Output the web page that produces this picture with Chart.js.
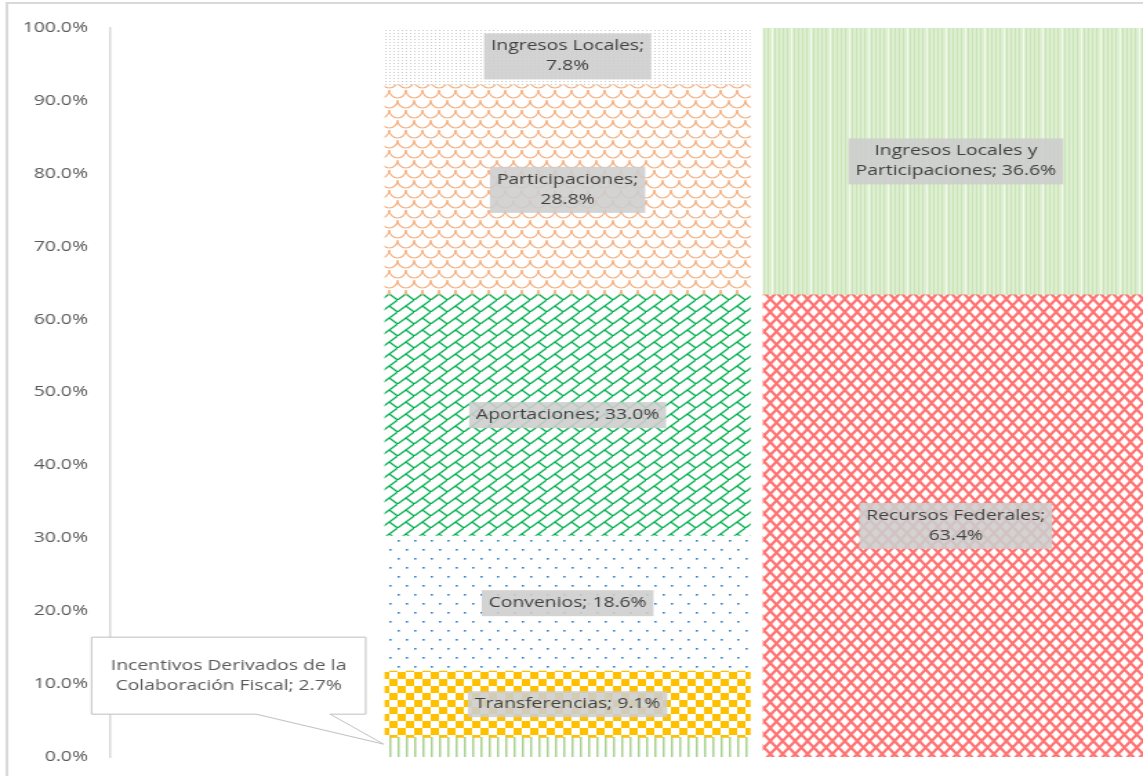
<!DOCTYPE html>
<html>
<head>
<meta charset="utf-8">
<script src="https://cdn.jsdelivr.net/npm/chart.js@4.4.1/dist/chart.umd.min.js"></script>
<style>
  html, body { margin: 0; padding: 0; background: #fff; overflow: hidden; }
  /* the reference is a horizontally stretched picture, so the whole chart is stretched too */
  #wrap { width: 828px; height: 776px; transform: scaleX(1.3804); transform-origin: 0 0; }
</style>
</head>
<body>
<div id="wrap"><canvas id="chart" width="828" height="776"></canvas></div>
<script>
const categories = ["Por fuente", "Por origen"];

// bar 1, bottom to top
const sourceNames = [
  "Incentivos Derivados de la Colaboración Fiscal",
  "Transferencias",
  "Convenios",
  "Aportaciones",
  "Participaciones",
  "Ingresos Locales"
];
const sourceValues = [2.7, 9.1, 18.6, 33.0, 28.8, 7.8];

// bar 2, bottom to top
const originNames = ["Recursos Federales", "Ingresos Locales y Participaciones"];
const originValues = [63.4, 36.6];

const yMin = 0, yMax = 100, yStep = 10;

const canvas = document.getElementById("chart");
const ctx = canvas.getContext("2d");

function makePattern(w, h, draw) {
  const c = document.createElement("canvas");
  c.width = w;
  c.height = h;
  draw(c.getContext("2d"), w, h);
  return ctx.createPattern(c, "repeat");
}

const patVLines = makePattern(6, 4, g => {
  g.fillStyle = "#A9D18E";
  g.fillRect(0, 0, 1.5, 4);
});
const patChecker = makePattern(12, 14, g => {
  g.fillStyle = "#FFC000";
  g.fillRect(0, 0, 6, 7);
  g.fillRect(6, 7, 6, 7);
});
const patBlueDots = makePattern(12, 18, g => {
  g.fillStyle = "#2E7FD0";
  g.fillRect(0, 0, 1.6, 1.6);
  g.fillRect(6, 9, 1.6, 1.6);
});
const patBrick = makePattern(12, 12, g => {
  g.strokeStyle = "#00B050";
  g.lineWidth = 1.3;
  g.beginPath();
  g.moveTo(-2, 14); g.lineTo(14, -2);
  g.moveTo(6, 6); g.lineTo(12, 12);
  g.stroke();
});
const patScales = makePattern(12, 20, g => {
  g.strokeStyle = "#F4B183";
  g.lineWidth = 1.2;
  [[6, 0], [0, 10], [12, 10], [6, 20], [6, -10]].forEach(([cx, cy]) => {
    g.beginPath();
    g.ellipse(cx, cy, 6, 8, 0, 0, Math.PI);
    g.stroke();
  });
});
const patGrayDots = makePattern(3, 3, g => {
  g.fillStyle = "#cccccc";
  g.fillRect(0, 0, 1, 1);
});
const patCross = makePattern(9, 13, g => {
  g.strokeStyle = "rgba(255,99,99,0.9)";
  g.lineWidth = 2.2;
  g.beginPath();
  g.moveTo(-1, -13 / 9); g.lineTo(10, 13 + 13 / 9);
  g.moveTo(-1, 13 + 13 / 9); g.lineTo(10, -13 / 9);
  g.stroke();
});
const patPaleStripes = makePattern(14, 4, g => {
  g.fillStyle = "#DDEFD0";
  g.fillRect(0, 0, 14, 4);
  g.fillStyle = "#C9E4B6";
  [1, 4, 7, 10].forEach(x => g.fillRect(x, 0, 1, 4));
  g.fillStyle = "#f4faef";
  g.fillRect(13, 0, 1, 4);
});

const sourceFills = [patVLines, patChecker, patBlueDots, patBrick, patScales, patGrayDots];
const originFills = [patCross, patPaleStripes];

const datasets = [];
sourceNames.forEach((name, i) => {
  datasets.push({
    label: name,
    data: [{ x: 1, y: sourceValues[i] }],
    backgroundColor: sourceFills[i],
    barThickness: 264.5,
    labelMax: 140,
    callout: i === 0
  });
});
originNames.forEach((name, i) => {
  datasets.push({
    label: name,
    data: [{ x: 2, y: originValues[i] }],
    backgroundColor: originFills[i],
    barThickness: 279,
    labelMax: 160
  });
});

function wrapText(g, text, max) {
  const words = text.split(" ");
  const lines = [];
  let cur = "";
  words.forEach(w => {
    const t = cur ? cur + " " + w : w;
    if (cur && g.measureText(t).width > max) {
      lines.push(cur);
      cur = w;
    } else {
      cur = t;
    }
  });
  lines.push(cur);
  return lines;
}

const frame = {
  id: "frame",
  beforeDraw(chart) {
    const g = chart.ctx;
    g.save();
    g.strokeStyle = "#d9d9d9";
    g.lineWidth = 2;
    g.strokeRect(5, 3, 2000, 2000);
    g.restore();
  }
};

const segmentLabels = {
  id: "segmentLabels",
  afterDatasetsDraw(chart) {
    const g = chart.ctx;
    const lh = 20;
    g.save();
    g.font = '14px "Open Sans"';
    g.textAlign = "center";
    g.textBaseline = "middle";
    chart.data.datasets.forEach((ds, i) => {
      const meta = chart.getDatasetMeta(i);
      meta.data.forEach((el, j) => {
        const v = ds.data[j].y;
        const cy = (el.y + el.base) / 2;
        if (ds.callout) {
          const lines = wrapText(g, `${ds.label}; ${v.toFixed(1)}%`, 175);
          const tw = Math.max(...lines.map(l => g.measureText(l).width));
          const w = tw + 28, h = lines.length * lh + 37;
          const right = el.x - el.width / 2 - 14;
          const left = right - w;
          const bottom = cy - 33, top = bottom - h;
          g.beginPath();
          g.moveTo(left, top);
          g.lineTo(right, top);
          g.lineTo(right, bottom);
          g.lineTo(left + w * 0.87, bottom);
          g.lineTo(el.x - el.width / 2 - 1, cy - 3);
          g.lineTo(left + w * 0.6, bottom);
          g.lineTo(left, bottom);
          g.closePath();
          g.fillStyle = "#ffffff";
          g.fill();
          g.strokeStyle = "#bfbfbf";
          g.lineWidth = 1;
          g.stroke();
          g.fillStyle = "#595959";
          const y0 = (top + bottom) / 2 - (lines.length - 1) * lh / 2;
          lines.forEach((l, k) => g.fillText(l, (left + right) / 2, y0 + k * lh));
          return;
        }
        const lines = wrapText(g, `${ds.label}; ${v.toFixed(1)}%`, ds.labelMax);
        const tw = Math.max(...lines.map(l => g.measureText(l).width));
        const bw = tw + 10, bh = lines.length * lh + 6;
        g.fillStyle = "rgba(205,205,205,0.88)";
        g.fillRect(el.x - bw / 2, cy - bh / 2, bw, bh);
        g.fillStyle = "#404040";
        const y0 = cy - (lines.length - 1) * lh / 2;
        lines.forEach((l, k) => g.fillText(l, el.x, y0 + k * lh));
      });
    });
    g.restore();
  }
};

new Chart(canvas, {
  type: "bar",
  data: { labels: categories, datasets },
  options: {
    responsive: false,
    animation: false,
    devicePixelRatio: 1,
    layout: { padding: { top: 28, bottom: 19, left: 0, right: 0 } },
    plugins: { legend: { display: false }, tooltip: { enabled: false } },
    scales: {
      x: {
        type: "linear",
        display: false,
        stacked: true,
        offset: false,
        min: -0.1785,
        max: 2.482
      },
      y: {
        stacked: true,
        min: yMin,
        max: yMax,
        grid: { display: false, drawTicks: false },
        border: { display: true, color: "#d9d9d9", width: 1.5 },
        ticks: {
          stepSize: yStep,
          padding: 16,
          color: "#595959",
          font: { family: "Open Sans", size: 14 },
          callback: v => v.toFixed(1) + "%"
        },
        afterFit: scale => {
          scale.width = 79.7;
          scale.paddingTop = 0;
          scale.paddingBottom = 0;
        }
      }
    }
  },
  plugins: [frame, segmentLabels]
});
</script>
</body>
</html>
